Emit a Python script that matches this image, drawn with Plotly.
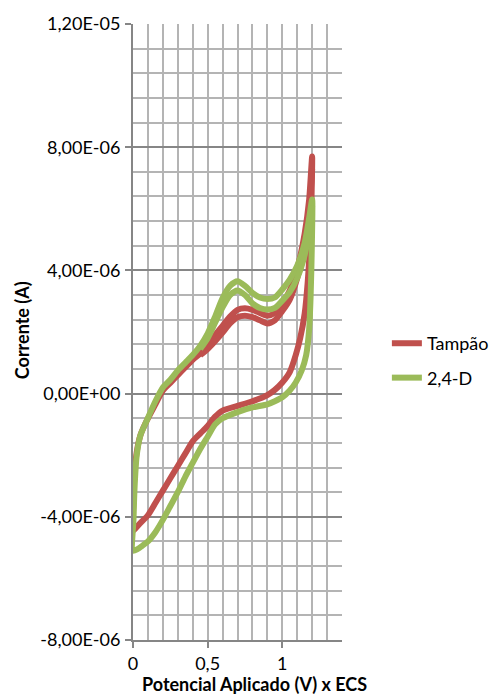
import plotly.graph_objects as go

# ---------------- data (currents in microampere) ----------------
# Tampão (buffer) – cycle 1, forward (anodic) scan
red_fwd_x = [0.0, 0.003, 0.01, 0.025, 0.05, 0.09, 0.15, 0.2, 0.25, 0.3, 0.35, 0.4, 0.45, 0.5,
             0.55, 0.6, 0.65, 0.7, 0.75, 0.8, 0.85, 0.9, 0.95, 1.0, 1.05, 1.1, 1.15, 1.18, 1.2]
red_fwd_y = [-4.45, -3.5, -2.6, -1.9, -1.35, -0.9, -0.35, 0.1, 0.35, 0.6, 0.85, 1.1, 1.3, 1.55,
             1.9, 2.2, 2.5, 2.72, 2.77, 2.72, 2.62, 2.53, 2.62, 2.92, 3.35, 4.05, 5.2, 6.3, 7.7]
# Tampão – reverse (cathodic) scan
red_rev_x = [1.2, 1.195, 1.185, 1.17, 1.15, 1.12, 1.09, 1.05, 1.0, 0.95, 0.9, 0.8, 0.7, 0.6,
             0.55, 0.5, 0.45, 0.4, 0.35, 0.3, 0.25, 0.2, 0.15, 0.1, 0.06, 0.03, 0.0]
red_rev_y = [7.7, 6.2, 4.8, 3.6, 2.6, 1.8, 1.25, 0.7, 0.36, 0.12, -0.05, -0.25, -0.4, -0.55,
             -0.75, -1.05, -1.3, -1.55, -1.95, -2.35, -2.75, -3.15, -3.55, -3.95, -4.15, -4.3, -4.45]
# Tampão – second cycle, forward scan (upper band)
red_c2_x = [0.45, 0.5, 0.55, 0.6, 0.65, 0.7, 0.75, 0.8, 0.85, 0.9, 0.95, 1.0, 1.05, 1.1, 1.15, 1.18, 1.2]
red_c2_y = [1.25, 1.45, 1.7, 1.98, 2.28, 2.48, 2.53, 2.48, 2.38, 2.28, 2.38, 2.68, 3.05, 3.75, 4.8, 5.9, 7.3]

# 2,4-D – cycle 1, forward scan
grn_fwd_x = [0.0, 0.004, 0.012, 0.025, 0.05, 0.09, 0.15, 0.2, 0.25, 0.3, 0.35, 0.4, 0.45, 0.5,
             0.55, 0.6, 0.65, 0.7, 0.75, 0.8, 0.85, 0.9, 0.95, 1.0, 1.05, 1.1, 1.15, 1.18, 1.2]
grn_fwd_y = [-5.1, -4.0, -2.9, -2.0, -1.35, -0.9, -0.25, 0.2, 0.45, 0.75, 1.0, 1.25, 1.55, 1.95,
             2.5, 3.1, 3.5, 3.65, 3.5, 3.27, 3.12, 3.07, 3.12, 3.38, 3.7, 4.15, 4.9, 5.7, 6.3]
# 2,4-D – reverse scan
grn_rev_x = [1.2, 1.198, 1.19, 1.18, 1.16, 1.13, 1.09, 1.05, 1.0, 0.95, 0.9, 0.8, 0.7, 0.6,
             0.55, 0.5, 0.45, 0.4, 0.35, 0.3, 0.25, 0.2, 0.15, 0.1, 0.06, 0.03, 0.0]
grn_rev_y = [6.3, 4.8, 3.2, 2.1, 1.25, 0.75, 0.36, 0.1, -0.12, -0.25, -0.35, -0.45, -0.6, -0.8,
             -1.0, -1.4, -1.8, -2.25, -2.7, -3.2, -3.65, -4.1, -4.5, -4.8, -4.95, -5.05, -5.1]
# 2,4-D – second cycle, forward scan (upper band)
grn_c2_x = [0.45, 0.5, 0.55, 0.6, 0.65, 0.7, 0.75, 0.8, 0.85, 0.9, 0.95, 1.0, 1.05, 1.1, 1.15, 1.18, 1.2]
grn_c2_y = [1.45, 1.8, 2.3, 2.8, 3.2, 3.35, 3.2, 2.93, 2.78, 2.73, 2.78, 3.02, 3.3, 3.75, 4.5, 5.3, 6.1]

y_tickvals = [-8e-6, -4e-6, 0, 4e-6, 8e-6, 1.2e-5]
y_ticktext = ["-8,00E-06", "-4,00E-06", "0,00E+00", "4,00E-06", "8,00E-06", "1,20E-05"]
x_tickvals = [0, 0.5, 1]
x_ticktext = ["0", "0,5", "1"]

RED = "#C0504D"
GREEN = "#9BBB59"
UA = 1e-6

fig = go.Figure()

def loop(xf, yf, xr, yr):
    return xf + xr[1:], [v * UA for v in yf + yr[1:]]

rx, ry = loop(red_fwd_x, red_fwd_y, red_rev_x, red_rev_y)
gx, gy = loop(grn_fwd_x, grn_fwd_y, grn_rev_x, grn_rev_y)

line_w = 6
fig.add_trace(go.Scatter(x=rx, y=ry, mode="lines", name="Tampão", legendgroup="a",
                         line=dict(color=RED, width=line_w, shape="spline", smoothing=0.7)))
fig.add_trace(go.Scatter(x=red_c2_x, y=[v * UA for v in red_c2_y], mode="lines", showlegend=False,
                         legendgroup="a",
                         line=dict(color=RED, width=line_w, shape="spline", smoothing=0.7)))
fig.add_trace(go.Scatter(x=gx, y=gy, mode="lines", name="2,4-D", legendgroup="b",
                         line=dict(color=GREEN, width=line_w, shape="spline", smoothing=0.7)))
fig.add_trace(go.Scatter(x=grn_c2_x, y=[v * UA for v in grn_c2_y], mode="lines", showlegend=False,
                         legendgroup="b",
                         line=dict(color=GREEN, width=line_w, shape="spline", smoothing=0.7)))

MAJ = "#868686"
MIN = "#B4B4B4"

fig.update_layout(
    width=496, height=699,
    margin=dict(l=133, r=154, t=22, b=59),
    paper_bgcolor="white", plot_bgcolor="white",
    font=dict(family="Lato", size=18, color="black"),
    separators=",.",
    legend=dict(xref="container", yref="container", x=0.78, y=0.535, xanchor="left", yanchor="top",
                font=dict(family="Lato", size=18, color="black"),
                tracegroupgap=8, traceorder="grouped", bgcolor="rgba(0,0,0,0)"),
    xaxis=dict(range=[0, 1.4], tickmode="array", tickvals=x_tickvals, ticktext=x_ticktext,
               ticks="outside", ticklen=6, tickwidth=2, tickcolor=MAJ,
               showline=True, linecolor=MAJ, linewidth=2,
               showgrid=True, gridcolor=MIN, gridwidth=1.5, zeroline=False,
               ticklabelstandoff=0,
               minor=dict(tick0=0, dtick=0.1, showgrid=True, gridcolor=MIN, gridwidth=1.5, ticks="")),
    yaxis=dict(range=[-8e-6, 1.2e-5], tickmode="array", tickvals=y_tickvals, ticktext=y_ticktext,
               ticks="outside", ticklen=6, tickwidth=2, tickcolor=MAJ,
               showline=True, linecolor=MAJ, linewidth=2,
               showgrid=True, gridcolor=MAJ, gridwidth=2, zeroline=False,
               ticklabelstandoff=1,
               minor=dict(tick0=-8e-6, dtick=8e-7, showgrid=True, gridcolor=MIN, gridwidth=1.5, ticks="")),
    annotations=[
        dict(text="<b>Corrente (A)</b>", xref="paper", yref="paper", x=-0.531, y=0.503,
             xanchor="center", yanchor="middle", textangle=-90, showarrow=False,
             font=dict(family="Lato", size=18, color="black")),
        dict(text="<b>Potencial Aplicado (V) x ECS</b>", xref="paper", yref="paper", x=0.579, y=-0.0712,
             xanchor="center", yanchor="middle", showarrow=False,
             font=dict(family="Lato", size=18, color="black")),
    ],
)

fig.write_html("out.html", config={"displayModeBar": False},
               post_script="document.body.style.margin='0';document.body.style.overflow='hidden';")
